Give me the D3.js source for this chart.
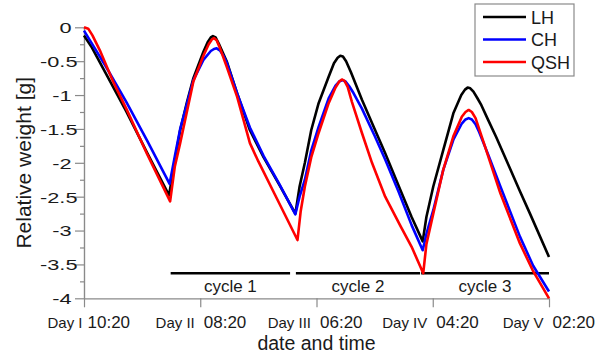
<!DOCTYPE html>
<html>
<head>
<meta charset="utf-8">
<script src="https://cdn.jsdelivr.net/npm/d3@7"></script>
<style>
  body { margin: 0; background: #fff; }
  text { font-family: "Liberation Sans", Arial, sans-serif; fill: #1a1a1a; }
</style>
</head>
<body>
<div id="chart"></div>
<script>
// series values, hours since Day I 10:20 and relative weight [g]
var lhHours  = [0, 1.5, 4, 8, 12, 16.1, 17.2, 18.2, 19.5, 20.7, 22.6, 23.4, 24.0, 24.4, 24.9, 25.5, 27, 29, 31.4, 34, 37, 40,
                40.8, 41.8, 43, 44.4, 46.3, 47.3, 48.0, 48.5, 49.0, 49.6, 50.5, 52.6, 55, 57, 59.5, 62, 64.1,
                64.8, 66.1, 68, 69.9, 71.4, 72.1, 72.6, 73.1, 73.7, 74.4, 75.2, 76.5, 78, 80.6, 82.5, 84.4, 88];
var lhWeight = [-0.12, -0.30, -0.66, -1.24, -1.86, -2.48, -1.96, -1.52, -1.10, -0.75, -0.36, -0.22, -0.15, -0.13, -0.15, -0.24, -0.50, -0.98, -1.52, -1.92, -2.33, -2.75,
                -2.35, -2.00, -1.52, -1.12, -0.73, -0.53, -0.45, -0.42, -0.43, -0.50, -0.66, -1.07, -1.50, -1.86, -2.33, -2.80, -3.16,
                -2.80, -2.35, -1.81, -1.27, -1.00, -0.92, -0.89, -0.90, -0.95, -1.04, -1.15, -1.37, -1.62, -2.08, -2.42, -2.75, -3.39];

var chHours  = [0, 1.5, 4, 8, 12, 16.2, 17.2, 18.2, 20.7, 22.6, 24, 24.6, 25.1, 25.7, 26.4, 27, 29, 31.4, 34, 37, 40,
                40.8, 41.8, 43, 44.4, 46.3, 47.6, 48.3, 48.9, 49.5, 50.2, 51, 52.6, 55, 57, 59.5, 62, 64.1,
                64.8, 66.1, 68, 69.9, 71.5, 72.2, 72.8, 73.4, 74.1, 74.8, 76.5, 78.8, 82.5, 85, 88];
var chWeight = [-0.05, -0.24, -0.56, -1.10, -1.68, -2.31, -1.90, -1.50, -0.78, -0.48, -0.35, -0.32, -0.31, -0.34, -0.42, -0.52, -0.98, -1.48, -1.90, -2.32, -2.76,
                -2.50, -2.25, -1.82, -1.47, -1.05, -0.86, -0.80, -0.78, -0.80, -0.87, -0.97, -1.20, -1.60, -1.95, -2.42, -2.92, -3.29,
                -3.05, -2.70, -2.10, -1.66, -1.42, -1.36, -1.34, -1.36, -1.43, -1.55, -1.88, -2.35, -3.09, -3.52, -3.90];

var qshHours  = [0, 0.8, 1.6, 3, 5.5, 8, 12, 16.3, 17.2, 18.2, 20.7, 22.6, 23.6, 24.2, 24.6, 25.1, 25.7, 27, 29, 31.4, 33, 36, 38.5, 40.4,
                 41, 41.8, 43, 44.4, 46.3, 47.6, 48.3, 48.8, 49.3, 49.9, 50.7, 52.6, 54.5, 57, 60, 62, 64.2,
                 64.8, 66.1, 68, 69.9, 71.5, 72.2, 72.8, 73.4, 74.1, 75.6, 78.8, 82.5, 85, 88];
var qshWeight = [0, -0.02, -0.12, -0.34, -0.80, -1.20, -1.88, -2.57, -2.05, -1.71, -0.80, -0.42, -0.25, -0.18, -0.16, -0.19, -0.30, -0.58, -1.03, -1.71, -1.98, -2.45, -2.84, -3.14,
                 -2.72, -2.35, -1.92, -1.56, -1.12, -0.89, -0.80, -0.77, -0.79, -0.88, -1.10, -1.56, -2.00, -2.50, -2.95, -3.24, -3.63,
                 -3.20, -2.75, -2.10, -1.61, -1.32, -1.25, -1.22, -1.25, -1.34, -1.69, -2.45, -3.19, -3.60, -4.00];

var seriesNames = ["LH", "CH", "QSH"];
var seriesColors = ["#000000", "#0000ff", "#ff0000"];

// axis ticks
var xTickHours = [0, 22, 44, 66, 88];
var xTickDays = ["Day I", "Day II", "Day III", "Day IV", "Day V"];
var xTickTimes = ["10:20", "08:20", "06:20", "04:20", "02:20"];
var yMajorTicks = [0, -0.5, -1, -1.5, -2, -2.5, -3, -3.5, -4];
var yMinorTicks = [-0.25, -0.75, -1.25, -1.75, -2.25, -2.75, -3.25, -3.75];

// cycle bars
var cycleNames = ["cycle 1", "cycle 2", "cycle 3"];
var cycleStart = [16.4, 40.1, 63.8];
var cycleEnd = [39.0, 63.6, 88];
var cycleLevel = -3.63;

var svgWidth = 607;
var svgHeight = 358;
var margin = { top: 27.3, right: 58, bottom: 59.7, left: 84 };
var width = svgWidth - margin.left - margin.right;
var height = svgHeight - margin.top - margin.bottom;

var svg = d3.select("#chart").append("svg")
  .attr("width", svgWidth)
  .attr("height", svgHeight);

var chartGroup = svg.append("g")
  .attr("transform", `translate(${margin.left}, ${margin.top})`);

var xScale = d3.scaleLinear().domain([0, 88]).range([0, width]);
var yScale = d3.scaleLinear().domain([-4, 0]).range([height, 0]);

var axisColor = "#8a8a8a";
var yLabelStretch = 1.45;

// y axis, minor then major
var yMinor = chartGroup.append("g")
  .call(d3.axisLeft(yScale).tickValues(yMinorTicks).tickSize(4).tickSizeOuter(0).tickFormat(""));
var yMajor = chartGroup.append("g")
  .call(d3.axisLeft(yScale).tickValues(yMajorTicks).tickSize(9).tickSizeOuter(0)
    .tickFormat(d => String(d)));
[yMinor, yMajor].forEach(function(g) {
  g.select(".domain").attr("stroke", axisColor).attr("stroke-width", 1.2);
  g.selectAll(".tick line").attr("stroke", axisColor).attr("stroke-width", 1.2);
});
// labels with a decimal sit a bit further right, as in the original
yMajor.selectAll(".tick text")
  .attr("x", d => (Number.isInteger(d) ? -12.5 : -6.5) / yLabelStretch)
  .attr("dy", "0.36em")
  .attr("transform", `scale(${yLabelStretch},1)`)
  .style("font-size", "15px")
  .style("font-family", "'Liberation Sans', Arial, sans-serif")
  .attr("fill", "#1a1a1a");

// x axis
var xAxis = chartGroup.append("g")
  .attr("transform", `translate(0, ${height})`)
  .call(d3.axisBottom(xScale).tickValues(xTickHours).tickSize(9).tickSizeOuter(0).tickFormat(""));
xAxis.select(".domain").attr("stroke", axisColor).attr("stroke-width", 1.2);
xAxis.selectAll(".tick line").attr("stroke", axisColor).attr("stroke-width", 1.2);

xAxis.selectAll(".tick").each(function(d, i) {
  var t = d3.select(this);
  t.append("text")
    .attr("x", i === 0 ? -2 : -6)
    .attr("y", 30)
    .attr("text-anchor", "end")
    .style("font-size", "15px")
    .text(xTickDays[i]);
  t.append("text")
    .attr("x", 3)
    .attr("y", 30)
    .attr("text-anchor", "start")
    .style("font-size", "17px")
    .text(xTickTimes[i]);
});

// cycle bars and labels
cycleNames.forEach(function(name, i) {
  chartGroup.append("line")
    .attr("x1", xScale(cycleStart[i]))
    .attr("x2", xScale(cycleEnd[i]))
    .attr("y1", yScale(cycleLevel))
    .attr("y2", yScale(cycleLevel))
    .attr("stroke", "#000")
    .attr("stroke-width", 2.5);
  chartGroup.append("text")
    .attr("x", xScale((cycleStart[i] + cycleEnd[i]) / 2))
    .attr("y", yScale(cycleLevel) + 19)
    .attr("text-anchor", "middle")
    .style("font-size", "17px")
    .text(name);
});

// curves
var allHours = [lhHours, chHours, qshHours];
var allWeights = [lhWeight, chWeight, qshWeight];
var line = d3.line()
  .x(d => xScale(d[0]))
  .y(d => yScale(d[1]))
  .curve(d3.curveLinear);

seriesNames.forEach(function(name, i) {
  var pts = allHours[i].map((h, j) => [h, allWeights[i][j]]);
  chartGroup.append("path")
    .datum(pts)
    .attr("fill", "none")
    .attr("stroke", seriesColors[i])
    .attr("stroke-width", 2.6)
    .attr("stroke-linejoin", "round")
    .attr("d", line);
});

// axis titles
svg.append("text")
  .attr("x", margin.left + width / 2)
  .attr("y", 350)
  .attr("text-anchor", "middle")
  .style("font-size", "19.5px")
  .text("date and time");

svg.append("text")
  .attr("transform", `translate(31, ${margin.top + height / 2}) rotate(-90)`)
  .attr("text-anchor", "middle")
  .style("font-size", "21px")
  .text("Relative weight [g]");

// legend
var legend = svg.append("g").attr("transform", "translate(475, 4)");
legend.append("rect")
  .attr("width", 99)
  .attr("height", 72)
  .attr("fill", "#fff")
  .attr("stroke", "#8a8a8a")
  .attr("stroke-width", 1.2);
seriesNames.forEach(function(name, i) {
  var ly = 13 + i * 22.5;
  legend.append("line")
    .attr("x1", 8).attr("x2", 51)
    .attr("y1", ly).attr("y2", ly)
    .attr("stroke", seriesColors[i])
    .attr("stroke-width", 2.6);
  legend.append("text")
    .attr("x", 56)
    .attr("y", ly + 6.5)
    .style("font-size", "18px")
    .text(name);
});
</script>
</body>
</html>
